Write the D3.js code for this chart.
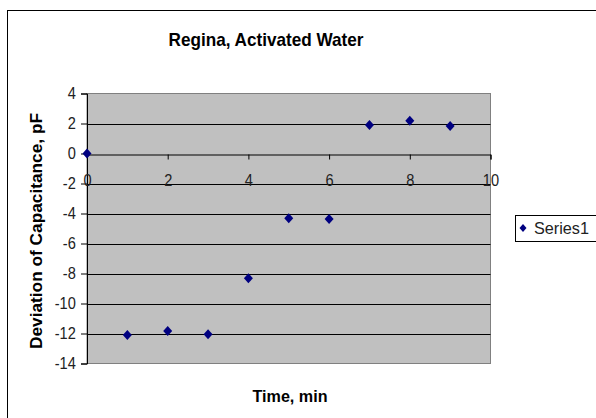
<!DOCTYPE html>
<html>
<head>
<meta charset="utf-8">
<script src="https://cdnjs.cloudflare.com/ajax/libs/d3/7.8.5/d3.min.js"></script>
<style>
html,body{margin:0;padding:0;background:#fff;}
svg{display:block;font-family:"Liberation Sans",Arial,sans-serif;}
</style>
</head>
<body>
<svg id="c" width="596" height="418"></svg>
<script>
const times = [0, 1, 2, 3, 4, 5, 6, 7, 8, 9];
const deviation = [0, -12.1, -11.83, -12.05, -8.32, -4.32, -4.37, 1.9, 2.19, 1.83];
const xTicks = [0, 2, 4, 6, 8, 10];
const yTicks = [4, 2, 0, -2, -4, -6, -8, -10, -12, -14];
const seriesName = "Series1";

const svg = d3.select("#c");
const L = 87, R = 490.5, T = 93.5, B = 363.5;
const x = d3.scaleLinear().domain([0, 10]).range([L, R]);
const y = d3.scaleLinear().domain([-14, 4]).range([B, T]);

function diamondPath(w, h) {
  const p = d3.path();
  p.moveTo(0, -h / 2); p.lineTo(w / 2, 0); p.lineTo(0, h / 2); p.lineTo(-w / 2, 0); p.closePath();
  return p.toString();
}

// outer chart border
svg.append("rect").attr("x", 7.5).attr("y", 10.5).attr("width", 620).attr("height", 430)
  .attr("fill", "#fff").attr("stroke", "#000").attr("stroke-width", 1);

// plot area
svg.append("rect").attr("x", L).attr("y", T).attr("width", R - L).attr("height", B - T)
  .attr("fill", "#c0c0c0").attr("stroke", "#808080").attr("stroke-width", 1);

// gridlines
svg.append("g").selectAll("line").data(yTicks.filter(d => d !== 4 && d !== -14 && d !== 0))
  .join("line")
  .attr("x1", L).attr("x2", R)
  .attr("y1", d => Math.round(y(d)) + 0.5).attr("y2", d => Math.round(y(d)) + 0.5)
  .attr("stroke", "#000").attr("stroke-width", 1);

// y axis
const yAxis = svg.append("g").attr("transform", `translate(${L},0)`)
  .call(d3.axisLeft(y).tickValues(yTicks).tickSize(6).tickPadding(7).tickFormat(d3.format("d")));
yAxis.select(".domain").attr("stroke", "#000");
yAxis.selectAll(".tick line").attr("stroke", "#000");
yAxis.selectAll(".tick text").attr("font-size", 17).attr("fill", "#222")
  .attr("font-family", "Liberation Sans, Arial, sans-serif")
  .attr("transform", "scale(0.86,1)")
  .text(d => d < 0 ? "-" + Math.abs(d) : d);

// x axis at y=0
const xAxis = svg.append("g").attr("transform", `translate(0,${Math.round(y(0)) + 0.5})`)
  .call(d3.axisBottom(x).tickValues(xTicks).tickSize(5).tickPadding(14).tickFormat(d3.format("d")));
xAxis.select(".domain").attr("stroke", "#000");
xAxis.selectAll(".tick line").attr("stroke", "#000");
xAxis.selectAll(".tick text").attr("font-size", 17).attr("fill", "#222")
  .attr("font-family", "Liberation Sans, Arial, sans-serif")
  .attr("transform", "scale(0.86,1)");

// points
svg.append("g").selectAll("path").data(times.map((t, i) => [t, deviation[i]]))
  .join("path")
  .attr("d", diamondPath(9, 10))
  .attr("transform", d => `translate(${x(d[0])},${y(d[1])})`)
  .attr("fill", "#000080");

// titles
svg.append("text").attr("x", 266).attr("y", 46).attr("text-anchor", "middle")
  .attr("font-size", 19).attr("font-weight", "bold").attr("textLength", 195)
  .attr("lengthAdjust", "spacingAndGlyphs").text("Regina, Activated Water");

svg.append("text").attr("x", 290).attr("y", 402).attr("text-anchor", "middle")
  .attr("font-size", 17).attr("font-weight", "bold").attr("textLength", 75)
  .attr("lengthAdjust", "spacingAndGlyphs").text("Time, min");

svg.append("text").attr("transform", "translate(42,231) rotate(-90)").attr("text-anchor", "middle")
  .attr("font-size", 17).attr("font-weight", "bold").attr("textLength", 236)
  .attr("lengthAdjust", "spacingAndGlyphs").text("Deviation of Capacitance, pF");

// legend
const lg = svg.append("g");
lg.append("rect").attr("x", 515.5).attr("y", 215.5).attr("width", 90).attr("height", 26)
  .attr("fill", "#fff").attr("stroke", "#000");
lg.append("path").attr("d", diamondPath(7, 8))
  .attr("transform", "translate(523,228)").attr("fill", "#000080");
lg.append("text").attr("x", 534).attr("y", 234).attr("font-size", 17).attr("fill", "#222")
  .attr("textLength", 55).attr("lengthAdjust", "spacingAndGlyphs").text(seriesName);
</script>
</body>
</html>
